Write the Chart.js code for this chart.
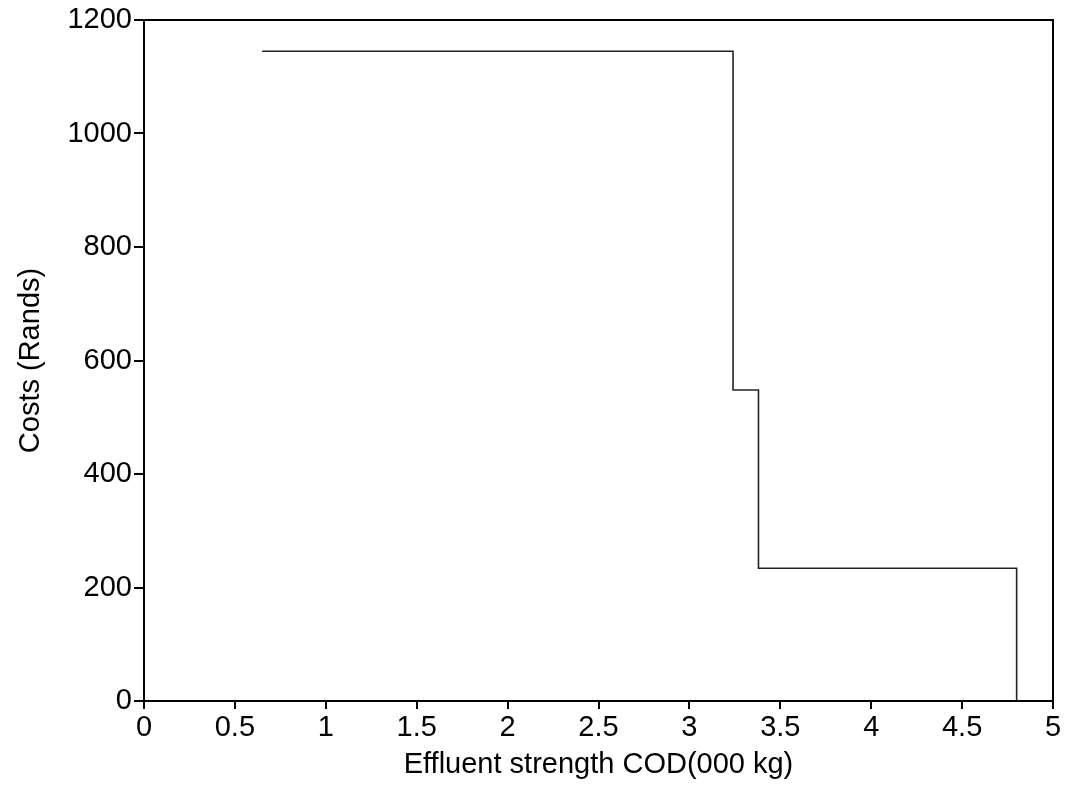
<!DOCTYPE html>
<html>
<head>
<meta charset="utf-8">
<script src="https://cdn.jsdelivr.net/npm/chart.js@4/dist/chart.umd.min.js"></script>
<style>
  html, body { margin: 0; padding: 0; background: #fff; }
  #wrap { width: 1067px; height: 787px; }
</style>
</head>
<body>
<div id="wrap"><canvas id="costChart" width="1067" height="787"></canvas></div>
<script>
// step curve: effluent strength (000 kg COD) vs cost (Rands)
const codValues = [0.65, 3.24, 3.24, 3.38, 3.38, 4.80, 4.80];
const costValues = [1145, 1145, 548, 548, 234, 234, 0];
const xTicks = [0, 0.5, 1, 1.5, 2, 2.5, 3, 3.5, 4, 4.5, 5];
const yTicks = [0, 200, 400, 600, 800, 1000, 1200];

const points = codValues.map((x, i) => ({ x: x, y: costValues[i] }));

// draw the frame round the plot area
const frameBox = {
  id: 'frameBox',
  afterDraw(chart) {
    const { ctx, chartArea: a } = chart;
    ctx.save();
    ctx.strokeStyle = '#000';
    ctx.lineWidth = 2;
    ctx.strokeRect(a.left, a.top, a.right - a.left, a.bottom - a.top);
    ctx.restore();
  }
};

const font = { family: '"Liberation Sans", Arial, sans-serif', size: 29 };

new Chart(document.getElementById('costChart').getContext('2d'), {
  type: 'scatter',
  data: {
    datasets: [{
      data: points,
      showLine: true,
      borderColor: '#222',
      borderWidth: 1.6,
      pointRadius: 0,
      tension: 0,
      fill: false
    }]
  },
  options: {
    responsive: false,
    animation: false,
    layout: { padding: { top: 20, right: 14, left: 0, bottom: 5 } },
    plugins: { legend: { display: false }, tooltip: { enabled: false } },
    scales: {
      x: {
        type: 'linear',
        min: 0,
        max: 5,
        afterBuildTicks: (scale) => { scale.ticks = xTicks.map(v => ({ value: v })); },
        afterFit: (scale) => { scale.height = 81; },
        ticks: {
          color: '#000',
          font: font,
          padding: 2,
          maxRotation: 0,
          autoSkip: false,
          callback: (v) => String(v)
        },
        grid: { drawOnChartArea: false, drawTicks: true, tickLength: 8, color: '#000', lineWidth: 2 },
        border: { display: true, color: '#000', width: 2 },
        title: {
          display: true,
          text: 'Effluent strength COD(000 kg)',
          color: '#000',
          font: font,
          padding: { top: 0, bottom: 0 }
        }
      },
      y: {
        type: 'linear',
        min: 0,
        max: 1200,
        afterBuildTicks: (scale) => { scale.ticks = yTicks.map(v => ({ value: v })); },
        afterFit: (scale) => { scale.width = 144; },
        ticks: {
          color: '#000',
          font: font,
          padding: 2,
          autoSkip: false,
          callback: (v) => String(v)
        },
        grid: { drawOnChartArea: false, drawTicks: true, tickLength: 10, color: '#000', lineWidth: 2 },
        border: { display: true, color: '#000', width: 2 },
        title: {
          display: true,
          text: 'Costs (Rands)',
          color: '#000',
          font: font,
          padding: { top: 14, bottom: 0 }
        }
      }
    }
  },
  plugins: [frameBox]
});
</script>
</body>
</html>
